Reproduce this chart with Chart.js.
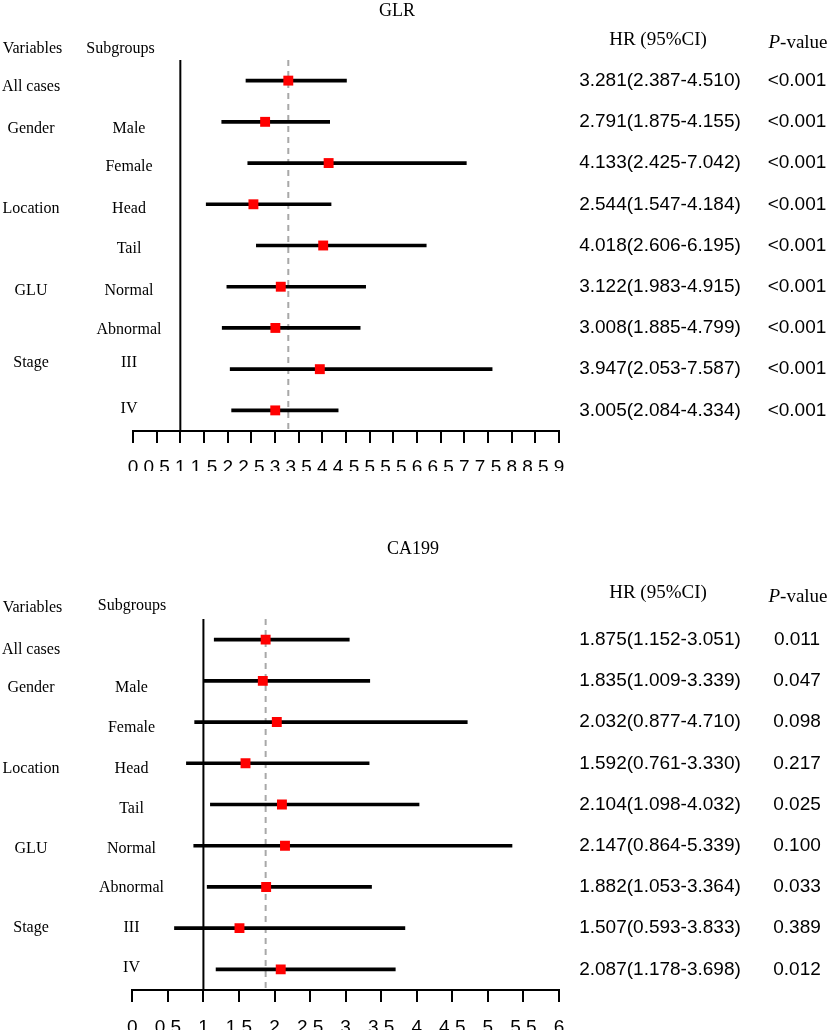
<!DOCTYPE html>
<html>
<head>
<meta charset="utf-8">
<script src="https://cdn.jsdelivr.net/npm/chart.js@4.4.1/dist/chart.umd.min.js"></script>
<style>
  html, body { margin: 0; padding: 0; background: #fff; }
  .panel { position: absolute; left: 0; width: 829px; }
</style>
</head>
<body>
<div class="panel" style="top:0;height:505px"><canvas id="glrChart"></canvas></div>
<div class="panel" style="top:505px;height:528px"><canvas id="caChart"></canvas></div>
<script>
// rows (one per subgroup, top to bottom)
const rowIds = ['All cases', 'Male', 'Female', 'Head', 'Tail', 'Normal', 'Abnormal', 'III', 'IV'];
const variableLabels = ['All cases', 'Gender', '', 'Location', '', 'GLU', '', 'Stage', ''];
const subgroupLabels = ['', 'Male', 'Female', 'Head', 'Tail', 'Normal', 'Abnormal', 'III', 'IV'];

// GLR
const glrHR   = [3.281, 2.791, 4.133, 2.544, 4.018, 3.122, 3.008, 3.947, 3.005];
const glrLow  = [2.387, 1.875, 2.425, 1.547, 2.606, 1.983, 1.885, 2.053, 2.084];
const glrHigh = [4.510, 4.155, 7.042, 4.184, 6.195, 4.915, 4.799, 7.587, 4.334];
const glrP    = ['<0.001', '<0.001', '<0.001', '<0.001', '<0.001', '<0.001', '<0.001', '<0.001', '<0.001'];
const glrAxisMax = 9;

// CA199
const caHR   = [1.875, 1.835, 2.032, 1.592, 2.104, 2.147, 1.882, 1.507, 2.087];
const caLow  = [1.152, 1.009, 0.877, 0.761, 1.098, 0.864, 1.053, 0.593, 1.178];
const caHigh = [3.051, 3.339, 4.710, 3.330, 4.032, 5.339, 3.364, 3.833, 3.698];
const caP    = ['0.011', '0.047', '0.098', '0.217', '0.025', '0.100', '0.033', '0.389', '0.012'];
const caAxisMax = 6;

const tickStep = 0.5;
const nullValue = 1;   // solid line at HR = 1

const SERIF = '"Liberation Serif", "Times New Roman", serif';
const SANS = '"Liberation Sans", Arial, sans-serif';
const LABEL_FONT = '16px ' + SERIF;

function text(ctx, s, x, y, font, align) {
  ctx.font = font;
  ctx.textAlign = align || 'center';
  ctx.textBaseline = 'middle';
  ctx.fillStyle = '#000';
  ctx.fillText(s, x, y);
}

// panel: data + where the text columns sit on the canvas
function makeForest(canvasId, p) {
  const forestPlugin = {
    id: 'forest',
    beforeDatasetsDraw(chart) {
      const ctx = chart.ctx, area = chart.chartArea, xs = chart.scales.x;
      ctx.save();
      // dashed reference at overall HR
      const xr = xs.getPixelForValue(p.hr[0]);
      ctx.strokeStyle = '#a8a8a8';
      ctx.lineWidth = 2;
      ctx.setLineDash([6, 5]);
      ctx.beginPath();
      ctx.moveTo(xr, area.top);
      ctx.lineTo(xr, area.bottom);
      ctx.stroke();
      // solid line at 1
      const x1 = xs.getPixelForValue(nullValue);
      ctx.setLineDash([]);
      ctx.strokeStyle = '#000';
      ctx.beginPath();
      ctx.moveTo(x1, area.top);
      ctx.lineTo(x1, area.bottom);
      ctx.stroke();
      ctx.restore();
    },
    afterDraw(chart) {
      const ctx = chart.ctx, ys = chart.scales.y;
      const L = p.layout;
      ctx.save();
      text(ctx, p.title, L.titleX, L.titleY, '18px ' + SERIF);
      text(ctx, 'Variables', L.varHeadX, L.headY, LABEL_FONT);
      text(ctx, 'Subgroups', L.subHeadX, L.subHeadY, LABEL_FONT);
      text(ctx, 'HR (95%CI)', 658, L.hrHeadY, '19px ' + SERIF);
      // P-value header: italic P
      ctx.font = 'italic 19px ' + SERIF;
      const wP = ctx.measureText('P').width;
      ctx.font = '19px ' + SERIF;
      const wRest = ctx.measureText('-value').width;
      const px = 798 - (wP + wRest) / 2;
      text(ctx, 'P', px, L.pHeadY, 'italic 19px ' + SERIF, 'left');
      text(ctx, '-value', px + wP, L.pHeadY, '19px ' + SERIF, 'left');

      for (let i = 0; i < rowIds.length; i++) {
        const ty = L.labelY[i];
        if (variableLabels[i]) text(ctx, variableLabels[i], 31, ty, LABEL_FONT);
        if (subgroupLabels[i]) text(ctx, subgroupLabels[i], L.subX, ty, LABEL_FONT);
        const ry = ys.getPixelForValue(i);
        const hrStr = p.hr[i].toFixed(3) + '(' + p.low[i].toFixed(3) + '-' + p.high[i].toFixed(3) + ')';
        text(ctx, hrStr, 660, ry, '19px ' + SANS);
        text(ctx, p.pv[i], 797, ry, '19px ' + SANS);
      }
      ctx.restore();
    }
  };

  return new Chart(document.getElementById(canvasId), {
    type: 'bar',
    data: {
      labels: rowIds,
      datasets: [
        {
          type: 'scatter',
          data: p.hr.map((v, i) => ({ x: v, y: rowIds[i] })),
          pointStyle: 'rect',
          pointRadius: 7,
          pointHoverRadius: 7,
          backgroundColor: '#ff0000',
          borderWidth: 0
        },
        {
          type: 'bar',
          data: p.low.map((v, i) => [v, p.high[i]]),
          backgroundColor: '#000',
          borderWidth: 0,
          barThickness: 3
        }
      ]
    },
    options: {
      indexAxis: 'y',
      responsive: true,
      maintainAspectRatio: false,
      animation: false,
      layout: { padding: p.padding },
      plugins: { legend: { display: false }, tooltip: { enabled: false } },
      scales: {
        x: {
          type: 'linear',
          min: 0,
          max: p.axisMax,
          afterFit: (s) => { s.height = 40; },
          ticks: {
            stepSize: tickStep,
            autoSkip: false,
            maxRotation: 0,
            minRotation: 0,
            padding: p.tickPad,
            color: '#000',
            font: { family: 'Liberation Sans', size: 19 },
            callback: (v) => String(v)
          },
          grid: {
            display: true,
            drawOnChartArea: false,
            drawTicks: true,
            tickLength: 12,
            color: '#000',
            lineWidth: 2
          },
          border: { display: true, color: '#000', width: 2 }
        },
        y: {
          type: 'category',
          display: false,
          offset: true,
          grid: { display: false }
        }
      }
    },
    plugins: [forestPlugin]
  });
}

window.addEventListener('load', function () {
  makeForest('glrChart', {
    title: 'GLR', hr: glrHR, low: glrLow, high: glrHigh, pv: glrP, axisMax: glrAxisMax, tickPad: 13,
    padding: { left: 133, right: 270, top: 60, bottom: 505 - 431 - 40 },
    layout: {
      titleX: 397, titleY: 11, varHeadX: 32.5, subHeadX: 120.5, headY: 49, subHeadY: 49,
      hrHeadY: 40, pHeadY: 43, subX: 129,
      labelY: [87, 129, 167, 209, 249, 291, 330, 363, 409]
    }
  });
  const off = 505;
  makeForest('caChart', {
    title: 'CA199', hr: caHR, low: caLow, high: caHigh, pv: caP, axisMax: caAxisMax, tickPad: 14,
    padding: { left: 132.3, right: 270, top: 619 - off, bottom: 528 - (990 - off) - 40 },
    layout: {
      titleX: 413, titleY: 549 - off, varHeadX: 32.5, subHeadX: 132, headY: 608 - off, subHeadY: 606 - off,
      hrHeadY: 593 - off, pHeadY: 597 - off, subX: 131.5,
      labelY: [650, 688, 728, 769, 809, 849, 888, 928, 968].map(v => v - off)
    }
  });
});
</script>
</body>
</html>
